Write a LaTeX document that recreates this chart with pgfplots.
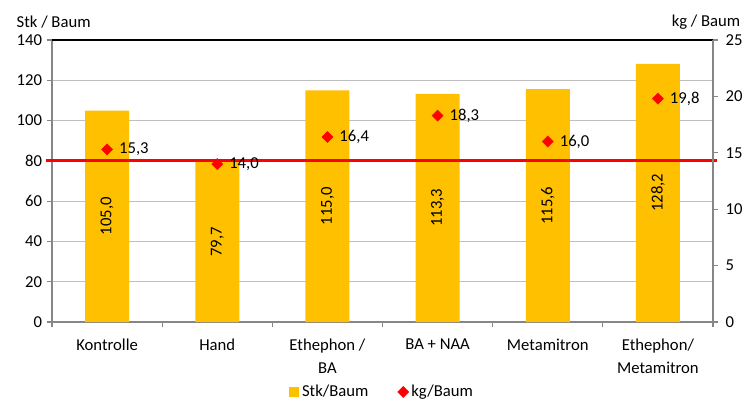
\documentclass[border=0pt]{standalone}
\usepackage{pgfplots}
\pgfplotsset{compat=1.18}
\usepackage{fontspec}
\setmainfont{Carlito}
\definecolor{barYellow}{HTML}{FFC000}
\definecolor{gridGray}{HTML}{BFBFBF}
\definecolor{axisGray}{HTML}{868686}
\newcommand{\chartfont}{\fontsize{12.5}{15}\selectfont}

\begin{document}
\begin{tikzpicture}
\useasboundingbox (-39pt,-59.25pt) rectangle (520.5pt,241.5pt);
\pgfplotsset{
  base/.style={
    scale only axis, width=495.75pt, height=211.5pt,
    at={(0,0)}, anchor=south west,
    xmin=-0.5, xmax=5.5,
    /pgf/number format/assume math mode=true,
    tick label style={font=\chartfont},
    tick align=outside,
    major tick length=4pt,
    minor tick length=4pt,
    every tick/.style={axisGray, line width=0.8pt},
    axis line style={axisGray, line width=0.8pt},
    clip=false,
  },
  kgmark/.style={only marks, mark=square*, mark size=2.9pt, red,
    mark options={rotate=45}},
}
% Stk/Baum: bars on the left axis
\begin{axis}[base,
  axis x line*=bottom, axis y line*=left,
  ymin=0, ymax=140, ytick={0,20,...,140},
  ymajorgrids, grid style={gridGray, line width=0.8pt},
  xtick={0,...,5},
  minor xtick={-0.5,0.5,...,5.5},
  every major x tick/.append style={draw=none},
  xticklabels={Kontrolle, Hand, {Ethephon /\\BA}, BA + NAA, Metamitron, {Ethephon/\\Metamitron}},
  xticklabel style={align=center, font=\fontsize{12.5}{17.25}\selectfont, yshift=-5pt},
  legend columns=2,
  legend cell align=left,
  legend style={at={(0.5,-0.248)}, anchor=center, draw=none, font=\chartfont,
    /tikz/every even column/.append style={column sep=20pt}},
]
\addplot[ybar, bar width=33pt, fill=barYellow, draw=none,
  legend image code/.code={\fill[barYellow] (0pt,-3.75pt) rectangle (7.5pt,3.75pt);},
  nodes near coords={\pgfmathprintnumber[fixed,fixed zerofill,precision=1,use comma]{\pgfplotspointmeta}},
  visualization depends on=y \as \rawy,
  every node near coord/.append style={font=\chartfont, black,
    shift={(axis direction cs:0,-0.5*\rawy)}, rotate=90, anchor=center}]
  coordinates {(0,105.0) (1,79.7) (2,115.0) (3,113.3) (4,115.6) (5,128.2)};
\addlegendentry{Stk/Baum}
\addlegendimage{kgmark}
\addlegendentry{kg/Baum}
% reference line at 80 Stk/Baum
\addplot[red, line width=2.2pt, forget plot] coordinates {(-0.555,80) (5.536,80)};
\draw[black, line width=0.8pt] (rel axis cs:0,1) -- (rel axis cs:1,1);
\node[anchor=west, font=\chartfont, xshift=-30pt, yshift=13.5pt] at (rel axis cs:0,1) {Stk / Baum};
\end{axis}
% kg/Baum: markers on the right axis
\begin{axis}[base,
  axis y line*=right, axis x line=none,
  ymin=0, ymax=25, ytick={0,5,...,25},
  yticklabel style={xshift=2pt},
  xtick=\empty,
]
\addplot[kgmark,
  nodes near coords={\pgfmathprintnumber[fixed,fixed zerofill,precision=1,use comma]{\pgfplotspointmeta}},
  every node near coord/.append style={anchor=west, xshift=5.5pt, black, font=\chartfont}]
  coordinates {(0,15.3) (1,14.0) (2,16.4) (3,18.3) (4,16.0) (5,19.8)};
\node[anchor=east, font=\chartfont, xshift=24pt, yshift=13.5pt] at (rel axis cs:1,1) {kg / Baum};
\end{axis}
\end{tikzpicture}
\end{document}
